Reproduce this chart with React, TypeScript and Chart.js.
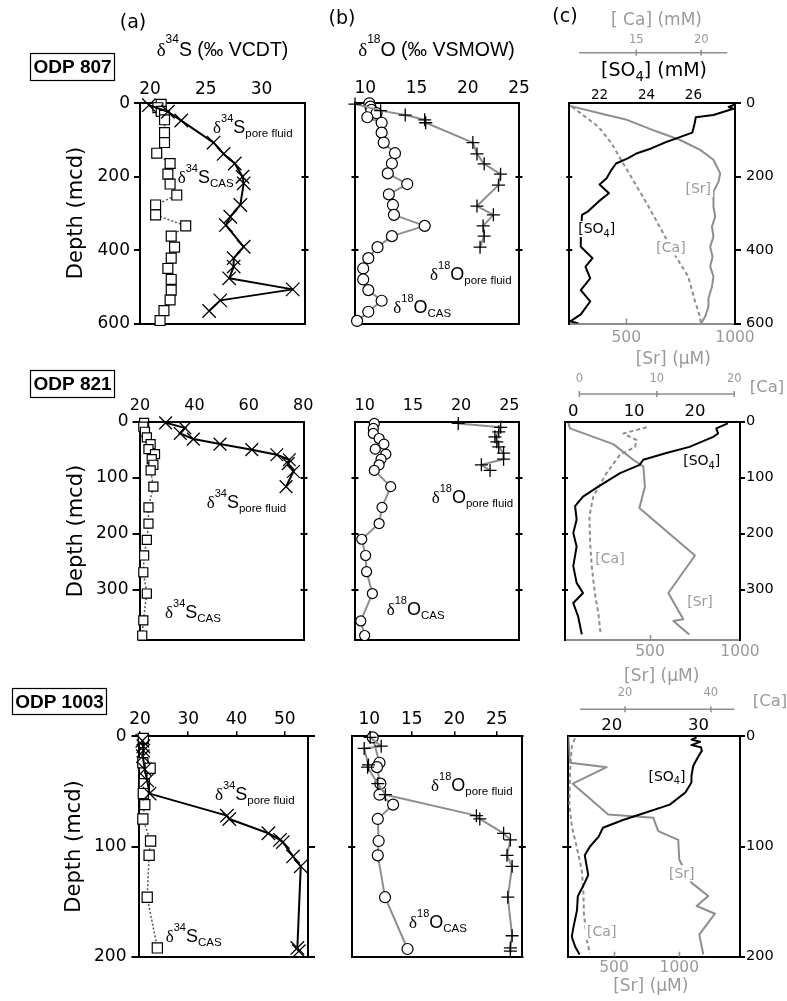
import React, { useEffect, useRef } from 'react';
import { Chart, registerables } from 'chart.js';

Chart.register(...registerables);

type Pt = [number, number]; // [value, depth (mcd)]

// ---------------- ODP 807 ----------------
const s807Pore: Pt[] = [[19.9,5],[21.6,23],[22.8,47],[25.7,107],[26.6,138],[27.6,164],[28.3,200],[28.4,218],[28.1,277],[27.2,309],[26.8,332],[28.4,391],[27.5,422],[27.5,445],[27.1,477],[32.8,507],[26.3,537],[25.3,566]];
const s807Cas: Pt[] = [[21.0,3],[20.7,12],[21.0,22],[21.3,33],[21.3,45],[21.3,80],[21.3,107],[20.6,136],[21.8,164],[21.6,193],[21.8,220],[22.4,250],[20.5,277],[20.5,304],[23.2,334],[21.9,362],[22.2,392],[21.9,422],[21.6,450],[21.9,480],[21.9,509],[21.8,536],[21.25,565],[20.9,592]];
const o807Pore: Pt[] = [[9.0,2],[11.5,20],[13.9,32],[15.8,45],[15.9,53],[20.5,107],[20.9,138],[21.6,165],[23.2,193],[23.0,223],[20.9,280],[22.5,304],[21.5,334],[21.6,362],[21.2,392]];
const o807Cas: Pt[] = [[10.4,0],[10.5,9],[10.6,18],[11.1,27],[10.2,38],[11.6,53],[11.6,80],[11.8,107],[12.9,136],[12.6,164],[12.2,191],[14.1,220],[12.3,248],[12.7,277],[12.8,304],[15.8,334],[12.6,362],[11.2,392],[10.3,422],[9.8,450],[9.8,480],[10.3,509],[11.6,538],[10.3,568],[9.2,593]];
const so4_807: Pt[] = [[27.8,2],[27.5,10],[27.7,15],[26.85,32],[26.1,38],[26.05,55],[25.95,80],[25.3,95],[24.7,109],[24.2,123],[23.6,136],[23.2,150],[22.7,164],[22.5,182],[22.3,204],[22.0,221],[22.4,245],[21.95,268],[21.5,295],[21.25,304],[21.2,368],[21.2,391],[21.7,422],[21.4,445],[21.6,477],[21.2,509],[21.6,540],[21.2,575],[20.75,594],[21.1,600]];
const sr_807: Pt[] = [[241,7],[411,32],[503,45],[641,77],[748,100],[840,127],[901,154],[932,191],[924,214],[901,241],[901,282],[909,309],[894,336],[901,363],[886,391],[897,418],[886,445],[901,472],[894,500],[878,531],[878,554],[863,581],[840,604]];
const ca_807: Pt[] = [[10.05,9],[10.9,32],[12.1,64],[13.1,109],[14.0,164],[14.9,218],[15.8,272],[16.8,336],[17.9,409],[19.0,472],[19.5,536],[19.9,581],[20.0,604]];

// ---------------- ODP 821 ----------------
const s821Pore: Pt[] = [[29.4,2],[36.5,11],[34.8,21],[39.6,31],[49.4,40],[61.1,50],[70.3,59],[74.9,68],[74.5,75],[76.4,89],[73.7,116]];
const s821Cas: Pt[] = [[21.5,2],[21.2,9],[21.8,18],[22.5,28],[23.9,40],[23.1,49],[25.5,58],[24.3,67],[24.9,77],[23.9,87],[24.9,116],[23.1,153],[23.1,182],[22.5,211],[21.5,239],[21.2,269],[22.5,307],[21.2,355],[20.8,382]];
const o821Pore: Pt[] = [[19.7,3],[24.1,10],[23.9,18],[23.5,27],[23.7,36],[23.9,45],[24.4,56],[24.4,67],[22.1,77],[23.0,87]];
const o821Cas: Pt[] = [[11.0,3],[10.9,12],[10.9,21],[11.5,30],[12.0,40],[11.1,49],[12.2,58],[11.7,67],[11.5,77],[11.0,87],[12.7,116],[11.8,153],[11.5,182],[9.7,210],[10.1,239],[10.2,268],[10.8,307],[9.6,356],[10.0,382]];
const so4_821: Pt[] = [[25.4,3],[23.5,12],[23.8,21],[23.0,27],[19.1,45],[15.3,56],[11.5,68],[10.9,77],[7.7,92],[4.1,116],[1.6,134],[0.3,151],[0.55,175],[0,199],[0.55,223],[0,258],[0.55,288],[1.6,306],[0,324],[0.8,348],[1.4,380]];
const sr_821: Pt[] = [[46,2],[56,12],[296,40],[407,68],[463,80],[472,116],[441,154],[750,239],[602,306],[685,353],[630,356],[718,380]];
const ca_821: Pt[] = [[8.7,10],[5.7,21],[7.4,33],[7.2,45],[5.25,59],[3.5,92],[1.8,134],[1.3,169],[1.4,217],[1.6,258],[2.0,306],[2.45,342],[2.75,380]];

// ---------------- ODP 1003 ----------------
const s1003Pore: Pt[] = [[20.5,4],[20.7,9],[20.7,13],[20.6,18],[21.0,30],[21.5,40],[22.0,52],[38.0,72],[38.5,75],[46.6,88],[49.0,94],[49.6,96],[51.7,109],[53.3,118],[52.6,192],[52.9,195]];
const s1003Cas: Pt[] = [[20.7,2],[20.6,24],[22.1,29],[20.9,43],[20.7,52],[21.0,62],[20.6,75],[22.2,95],[21.9,108],[21.5,146],[23.6,192]];
const o1003Pore: Pt[] = [[10.1,1],[11.4,9],[9.4,11],[9.9,26],[9.8,28],[11.0,43],[11.9,53],[22.6,72],[23.0,75],[25.8,88],[26.6,94],[26.2,108],[26.8,118],[26.3,146],[26.8,181],[26.6,192],[26.6,195]];
const o1003Cas: Pt[] = [[10.4,1],[11.2,24],[10.9,28],[11.3,43],[11.2,53],[12.8,62],[11.0,75],[11.1,95],[11.0,108],[11.85,146],[14.5,193]];
const so4_1003: Pt[] = [[29.8,1],[29.2,3],[30.2,5],[29.2,8],[30.3,10],[30.4,13],[29.8,21],[29.4,27],[29.2,36],[29.2,42],[28.5,51],[26.7,62],[23.6,70],[21.3,76],[19.0,83],[18.5,91],[17.5,100],[16.9,108],[17.1,117],[17.3,126],[16.7,136],[16.1,145],[16.0,158],[15.6,173],[15.4,182],[15.8,191],[16.3,198]];
const sr_1003: Pt[] = [[150,0],[163,24],[444,28],[184,43],[456,71],[801,74],[839,86],[992,94],[1000,112],[1095,133],[1222,145],[1133,154],[1273,161],[1153,180],[1184,198]];
const ca_1003: Pt[] = [[8.3,2],[7.6,9],[7.2,30],[7.0,61],[7.6,82],[8.7,100],[9.9,121],[10.3,142],[10.4,160],[11.1,185],[11.8,197]];

// ---------------- tick labels ----------------
const depth807 = [0, 200, 400, 600];
const depth821 = [0, 100, 200, 300];
const depth1003 = [0, 100, 200];
const sTicks807 = [20, 25, 30];
const sTicks821 = [20, 40, 60, 80];
const sTicks1003 = [20, 30, 40, 50];
const oTicks = [10, 15, 20, 25];
const so4Ticks807 = [22, 24, 26];
const so4Ticks821 = [0, 10, 20];
const so4Ticks1003 = [20, 30];
const srTicks = [500, 1000];
const caTicks807 = [15, 20];
const caTicks821 = [0, 10, 20];
const caTicks1003 = [20, 40];

// ---------------- styling ----------------
const W = 787, H = 1001;
const HB = 34; // height of horizontal axis boxes
const VB = 46; // width of vertical axis boxes
const GL = '#8e8e8e';
const GT = '#9a9a9a';
const AXF = '"DejaVu Sans"';
const HVF = '"Liberation Sans"';
const SYF = '"Liberation Serif"';

const toXY = (p: Pt[]) => p.map(([v, d]) => ({ x: v, y: d }));
const fixTicks = (vals: number[]) => (s: any) => { s.ticks = vals.map((value) => ({ value })); };
const fixH = (s: any) => { s.height = HB; };
const fixW = (s: any) => { s.width = VB; };
const num = (v: any) => String(v);

function xAxis(pos: string, min: number, max: number, ticks: number[], o: any = {}) {
  const tl = o.tl || 0;
  return {
    type: 'linear', position: pos, min, max,
    afterBuildTicks: fixTicks(ticks), afterFit: fixH,
    grid: { display: tl > 0, drawOnChartArea: false, drawTicks: tl > 0, tickLength: tl, color: '#000', lineWidth: 1.5 },
    border: { display: true, color: o.border || '#000', width: 2 },
    ticks: { display: o.labels !== false, color: o.color || '#000', font: { family: AXF, size: o.size || 16, lineHeight: 1 }, padding: o.pad ?? 3, autoSkip: false, maxRotation: 0, minRotation: 0, callback: num },
  };
}
function yAxis(pos: string, max: number, ticks: number[], o: any = {}) {
  const tl = o.tl || 0;
  return {
    type: 'linear', position: pos, min: 0, max, reverse: true,
    afterBuildTicks: fixTicks(ticks), afterFit: fixW,
    grid: { display: tl > 0, drawOnChartArea: false, drawTicks: tl > 0, tickLength: tl, color: '#000', lineWidth: 2 },
    border: { display: true, color: '#000', width: 2 },
    ticks: { display: !!o.labels, color: '#000', font: { family: AXF, size: o.size || 16, lineHeight: 1 }, padding: o.pad ?? 3, autoSkip: false, callback: num },
  };
}
function baseOptions(box: number[]) {
  const [l, t, r, b] = box;
  return {
    responsive: false, animation: false, devicePixelRatio: 1, events: [],
    layout: { padding: { left: l - VB, top: t - HB, right: W - r - VB, bottom: H - b - HB } },
    plugins: { legend: { display: false }, tooltip: { enabled: false }, title: { display: false } },
  };
}
function markerSet(pts: Pt[], xID: string, o: any) {
  return {
    data: toXY(pts), xAxisID: xID, yAxisID: 'y',
    borderColor: o.line, borderWidth: o.lw, borderDash: o.dash || [], borderJoinStyle: 'round',
    pointStyle: o.style, pointRadius: o.r, pointBackgroundColor: o.fill, pointBorderColor: '#000', pointBorderWidth: o.mkw || 1.2,
    fill: false, tension: 0, clip: false,
  };
}
function lineSet(pts: Pt[], xID: string, color: string, lw: number, dash: number[] = []) {
  return { data: toXY(pts), xAxisID: xID, yAxisID: 'y', borderColor: color, borderWidth: lw, borderDash: dash, borderJoinStyle: 'round', pointRadius: 0, fill: false, tension: 0 };
}
const overlay = (fn: (c: any, ctx: CanvasRenderingContext2D) => void) => ({
  id: 'overlay',
  afterDatasetsDraw(chart: any) { const ctx = chart.ctx; ctx.save(); fn(chart, ctx); ctx.restore(); },
});

type Run = { t: string; size: number; font?: string; dy?: number; weight?: string };
function drawRuns(ctx: CanvasRenderingContext2D, runs: Run[], x: number, y: number, align: 'left' | 'center', color: string, bg = false) {
  ctx.textBaseline = 'alphabetic';
  ctx.textAlign = 'left';
  const fonts = runs.map((r) => `${r.weight || 'normal'} ${r.size}px ${r.font || HVF}`);
  let total = 0;
  const ws = runs.map((r, i) => { ctx.font = fonts[i]; const w = ctx.measureText(r.t).width; total += w; return w; });
  let cx = align === 'center' ? x - total / 2 : x;
  if (bg) {
    const m = Math.max(...runs.map((r) => r.size));
    ctx.fillStyle = '#fff';
    ctx.fillRect(cx - 2, y - m * 0.88, total + 4, m * 1.15);
  }
  runs.forEach((r, i) => { ctx.font = fonts[i]; ctx.fillStyle = color; ctx.fillText(r.t, cx, y + (r.dy || 0)); cx += ws[i]; });
}
function text(ctx: CanvasRenderingContext2D, s: string, x: number, y: number, size: number, color: string, font = AXF, weight = 'normal', align: CanvasTextAlign = 'center') {
  ctx.font = `${weight} ${size}px ${font}`;
  ctx.fillStyle = color;
  ctx.textAlign = align;
  ctx.textBaseline = 'middle';
  ctx.fillText(s, x, y);
}
function sideTicks(chart: any, ctx: CanvasRenderingContext2D, side: 'left' | 'right', vals: number[], inn: number, out: number) {
  const ca = chart.chartArea, ys = chart.scales.y;
  const x = side === 'left' ? ca.left : ca.right;
  const dir = side === 'left' ? 1 : -1;
  ctx.strokeStyle = '#000';
  ctx.lineWidth = 2;
  ctx.beginPath();
  vals.forEach((v) => { const y = Math.round(ys.getPixelForValue(v)); ctx.moveTo(x - dir * out, y); ctx.lineTo(x + dir * inn, y); });
  ctx.stroke();
}
const isoRuns = (el: string, mass: string, sub: string): Run[] => [
  { t: 'δ', size: 17, font: SYF },
  { t: mass, size: 11, dy: -11 },
  { t: el, size: 18 },
  { t: sub, size: 11.5, dy: 3.5 },
];
const so4Runs = (size: number): Run[] => [
  { t: '[SO', size, font: AXF },
  { t: '4', size: size * 0.7, font: AXF, dy: size * 0.25 },
  { t: ']', size, font: AXF },
];
function siteBox(ctx: CanvasRenderingContext2D, label: string, b: number[]) {
  ctx.fillStyle = '#fff';
  ctx.fillRect(b[0], b[1], b[2] - b[0], b[3] - b[1]);
  ctx.strokeStyle = '#000';
  ctx.lineWidth = 1.2;
  ctx.strokeRect(b[0] + 0.5, b[1] + 0.5, b[2] - b[0] - 1, b[3] - b[1] - 1);
  text(ctx, label, (b[0] + b[2]) / 2, (b[1] + b[3]) / 2 + 1, 19, '#000', HVF, 'bold');
}
function depthTitle(ctx: CanvasRenderingContext2D, x: number, y: number) {
  ctx.save();
  ctx.translate(x, y);
  ctx.rotate(-Math.PI / 2);
  text(ctx, 'Depth (mcd)', 0, 0, 21, '#000');
  ctx.restore();
}

// ---------------- panel (a): δ34S ----------------
function makeA(s: any) {
  const inner = s.yTicks.filter((v: number) => v > 0 && v < s.yMax);
  return {
    type: 'line',
    data: { datasets: [
      markerSet(s.pore, 'x', { line: '#000', lw: 2, style: 'crossRot', r: s.crossR, fill: 'rgba(0,0,0,0)', mkw: 1.3 }),
      markerSet(s.cas, 'x', { line: '#555', lw: 1.5, dash: [2, 2], style: 'rect', r: s.rectR, fill: '#fff', mkw: 1.2 }),
    ] },
    options: {
      ...baseOptions(s.box),
      scales: {
        x: xAxis('top', s.xMin, s.xMax, s.xTicks, { size: s.xSize, pad: s.xPad, tl: s.xTl }),
        x2: xAxis('bottom', s.xMin, s.xMax, [], { labels: false }),
        y: yAxis('left', s.yMax, s.yTicks, { labels: true, size: s.ySize, tl: s.yTl, pad: s.yPad }),
        y2: yAxis('right', s.yMax, s.yTicks, { labels: false, tl: s.rightOut ? 7 : 0 }),
      },
    },
    plugins: [overlay((chart, ctx) => {
      if (!s.rightOut) sideTicks(chart, ctx, 'right', inner, 3.5, 3.5);
      drawRuns(ctx, isoRuns('S', '34', 'pore fluid'), s.poreAt[0], s.poreAt[1], 'left', '#000');
      drawRuns(ctx, isoRuns('S', '34', 'CAS'), s.casAt[0], s.casAt[1], 'left', '#000');
      siteBox(ctx, s.site, s.siteBox);
      depthTitle(ctx, s.depthAt[0], s.depthAt[1]);
      if (s.header) {
        text(ctx, '(a)', 133, 23.5, 19, '#000');
        drawRuns(ctx, [{ t: 'δ', size: 19, font: SYF }, { t: '34', size: 12, dy: -13 }, { t: 'S (‰ VCDT)', size: 19.5 }], 222.5, 56, 'center', '#000');
      }
    })],
  };
}

// ---------------- panel (b): δ18O ----------------
function makeB(s: any) {
  const inner = s.yTicks.filter((v: number) => v > 0 && v < s.yMax);
  return {
    type: 'line',
    data: { datasets: [
      markerSet(s.pore, 'x', { line: GL, lw: 2, style: 'cross', r: s.plusR, fill: 'rgba(0,0,0,0)', mkw: 1.3 }),
      markerSet(s.cas, 'x', { line: GL, lw: 2, style: 'circle', r: s.circR, fill: '#fff', mkw: 1.2 }),
    ] },
    options: {
      ...baseOptions(s.box),
      scales: {
        x: xAxis('top', s.xMin, s.xMax, oTicks, { size: s.xSize, pad: s.xPad, tl: s.xTl }),
        x2: xAxis('bottom', s.xMin, s.xMax, [], { labels: false }),
        y: yAxis('left', s.yMax, s.yTicks, { labels: false }),
        y2: yAxis('right', s.yMax, s.yTicks, { labels: false }),
      },
    },
    plugins: [overlay((chart, ctx) => {
      sideTicks(chart, ctx, 'left', inner, 3.5, 3.5);
      sideTicks(chart, ctx, 'right', inner, 3.5, 3.5);
      drawRuns(ctx, isoRuns('O', '18', 'pore fluid'), s.poreAt[0], s.poreAt[1], 'left', '#000');
      drawRuns(ctx, isoRuns('O', '18', 'CAS'), s.casAt[0], s.casAt[1], 'left', '#000');
      if (s.header) {
        text(ctx, '(b)', 342, 19.5, 19, '#000');
        drawRuns(ctx, [{ t: 'δ', size: 19, font: SYF }, { t: '18', size: 12, dy: -13 }, { t: 'O (‰ VSMOW)', size: 19.5 }], 436.5, 55.5, 'center', '#000');
      }
    })],
  };
}

// ---------------- panel (c): concentrations ----------------
function makeC(s: any) {
  const inner = s.yTicks.filter((v: number) => v > 0 && v < s.yMax);
  return {
    type: 'line',
    data: { datasets: [
      lineSet(s.so4, 'xso4', '#000', 2),
      lineSet(s.sr, 'xsr', GL, 2),
      lineSet(s.ca, 'xca', GL, 2, [4, 3]),
    ] },
    options: {
      ...baseOptions(s.box),
      scales: {
        xso4: xAxis('top', s.so4Min, s.so4Max, s.so4Ticks, { size: s.so4Size, pad: s.so4Pad }),
        xsr: xAxis('bottom', s.srMin, s.srMax, srTicks, { size: 15.5, pad: s.srPad, color: GT, border: s.srBorder }),
        xca: { type: 'linear', position: 'top', display: false, min: s.caMin, max: s.caMax },
        y: yAxis('left', s.yMax, s.yTicks, { labels: false }),
        y2: yAxis('right', s.yMax, s.yTicks, { labels: true, size: 14.5, tl: s.rTl, pad: s.rPad }),
      },
    },
    plugins: [overlay((chart, ctx) => {
      const ca = chart.chartArea;
      sideTicks(chart, ctx, 'left', inner, 3, s.leftOut);
      const xs = chart.scales.xsr;
      ctx.strokeStyle = GL; ctx.lineWidth = 1.5; ctx.beginPath();
      s.srInner.forEach((v: number) => { const x = Math.round(xs.getPixelForValue(v)) + 0.5; ctx.moveTo(x, ca.bottom); ctx.lineTo(x, ca.bottom - 5); });
      ctx.stroke();
      const xc = chart.scales.xca;
      ctx.strokeStyle = GL; ctx.lineWidth = 1.5; ctx.beginPath();
      ctx.moveTo(xc.getPixelForValue(s.caFrom), s.caY); ctx.lineTo(xc.getPixelForValue(s.caTo), s.caY);
      s.caTicks.forEach((v: number) => { const x = xc.getPixelForValue(v); ctx.moveTo(x, s.caY - 3); ctx.lineTo(x, s.caY + 3); });
      ctx.stroke();
      s.caTicks.forEach((v: number) => text(ctx, String(v), xc.getPixelForValue(v), s.caLabY, 11.5, GT));
      drawRuns(ctx, so4Runs(14), s.so4At[0], s.so4At[1] + 5, 'center', '#000', true);
      drawRuns(ctx, [{ t: '[Sr]', size: 14, font: AXF }], s.srAt[0], s.srAt[1] + 5, 'center', GT, true);
      drawRuns(ctx, [{ t: '[Ca]', size: 14, font: AXF }], s.caAt[0], s.caAt[1] + 5, 'center', GT, true);
      text(ctx, '[Sr] (μM)', s.srTitle[0], s.srTitle[1], 17, GT);
      if (s.caSide) text(ctx, '[Ca]', s.caSide[0], s.caSide[1], 16.5, GT);
      if (s.header) {
        text(ctx, '(c)', 565, 17.5, 19, '#000');
        text(ctx, '[ Ca] (mM)', 656.5, 20.5, 17, GT);
        drawRuns(ctx, [...so4Runs(19), { t: ' (mM)', size: 19, font: AXF }], 654, 76, 'center', '#000');
      }
    })],
  };
}

const FACTORIES: (() => any)[] = [
  // ODP 807
  () => makeA({ box: [140, 103.3, 305, 323.5], xMin: 19.1, xMax: 33.9, xTicks: sTicks807, xSize: 17, xPad: 4.8, xTl: 0,
    yMax: 600, yTicks: depth807, ySize: 17, yTl: 6, yPad: 4, pore: s807Pore, cas: s807Cas, crossR: 9.5, rectR: 7,
    poreAt: [213, 133], casAt: [177.7, 183], site: 'ODP 807', siteBox: [30, 53, 115, 81], depthAt: [77, 213], header: true }),
  () => makeB({ box: [355, 103.3, 519, 323.5], xMin: 9, xMax: 25, xSize: 17, xPad: 6.5, xTl: 0,
    yMax: 600, yTicks: depth807, pore: o807Pore, cas: o807Cas, plusR: 6.5, circR: 5.5,
    poreAt: [430, 280], casAt: [393.3, 313], header: true }),
  () => makeC({ box: [569.3, 103.3, 735, 323.5], yMax: 600, yTicks: depth807, so4: so4_807, sr: sr_807, ca: ca_807,
    so4Min: 20.71, so4Max: 27.77, so4Ticks: so4Ticks807, so4Size: 13.5, so4Pad: 1.5,
    srMin: 238.5, srMax: 1000, srPad: 6.75, srBorder: GL, srInner: [500],
    caMin: 9.85, caMax: 22.6, caFrom: 10.6, caTo: 22, caTicks: caTicks807, caY: 52.7, caLabY: 40,
    rTl: 6, rPad: 5, leftOut: 3,
    so4At: [596.7, 228.3], srAt: [698.3, 188.3], caAt: [671, 246.7], srTitle: [673.3, 359.3], header: true }),
  // ODP 821
  () => makeA({ box: [139.5, 421.7, 304, 640], xMin: 19.8, xMax: 80.3, xTicks: sTicks821, xSize: 16, xPad: 7.7, xTl: 0,
    yMax: 390, yTicks: depth821, ySize: 17, yTl: 7, yPad: 4, pore: s821Pore, cas: s821Cas, crossR: 9, rectR: 6.4,
    poreAt: [206.7, 508], casAt: [165, 618], site: 'ODP 821', siteBox: [30, 370, 115, 398], depthAt: [77, 531] }),
  () => makeB({ box: [355, 421.7, 519, 640], xMin: 9, xMax: 26, xSize: 16, xPad: 7.7, xTl: 0,
    yMax: 390, yTicks: depth821, pore: o821Pore, cas: o821Cas, plusR: 6.5, circR: 5,
    poreAt: [431.7, 503], casAt: [386.7, 615] }),
  () => makeC({ box: [565, 421.7, 740, 640], yMax: 390, yTicks: depth821, so4: so4_821, sr: sr_821, ca: ca_821,
    so4Min: -1.36, so4Max: 27.4, so4Ticks: so4Ticks821, so4Size: 16.5, so4Pad: 1.75,
    srMin: 28, srMax: 1000, srPad: 4, srBorder: GL, srInner: [500],
    caMin: -1.85, caMax: 20.74, caFrom: 0, caTo: 20, caTicks: caTicks821, caY: 394, caLabY: 379,
    rTl: 5, rPad: 1, leftOut: 3,
    so4At: [701.7, 460], srAt: [700, 600.5], caAt: [610, 558], srTitle: [661.7, 676.7], caSide: [767, 388] }),
  // ODP 1003
  () => makeA({ box: [138.5, 736.3, 308, 956.7], xMin: 19.7, xMax: 54.8, xTicks: sTicks1003, xSize: 17, xPad: 2.8, xTl: 5,
    yMax: 200, yTicks: depth1003, ySize: 17, yTl: 7, yPad: 5, rightOut: true, pore: s1003Pore, cas: s1003Cas, crossR: 9.5, rectR: 7.2,
    poreAt: [215, 800], casAt: [165.7, 942], site: 'ODP 1003', siteBox: [12, 688, 107, 715], depthAt: [75, 846.5] }),
  () => makeB({ box: [351.7, 736.3, 522.3, 956.7], xMin: 7.93, xMax: 28, xSize: 17, xPad: 2.8, xTl: 5,
    yMax: 200, yTicks: depth1003, pore: o1003Pore, cas: o1003Cas, plusR: 6.5, circR: 5.5,
    poreAt: [431, 791], casAt: [409, 928] }),
  () => makeC({ box: [568.3, 736.3, 740, 956.7], yMax: 200, yTicks: depth1003, so4: so4_1003, sr: sr_1003, ca: ca_1003,
    so4Min: 15, so4Max: 34.8, so4Ticks: so4Ticks1003, so4Size: 16.5, so4Pad: 2,
    srMin: 150, srMax: 1465, srPad: 4, srBorder: '#000', srInner: [500, 1000],
    caMin: 6.77, caMax: 46.8, caFrom: 9.5, caTo: 45.5, caTicks: caTicks1003, caY: 709.3, caLabY: 693.3,
    rTl: 5, rPad: 1, leftOut: 6,
    so4At: [667, 775.7], srAt: [681.7, 872.5], caAt: [601.7, 930.8], srTitle: [650.8, 986.7], caSide: [770, 702] }),
];

function Panel({ make }: { make: () => any }) {
  const ref = useRef<HTMLCanvasElement>(null);
  useEffect(() => {
    if (!ref.current) return;
    const chart = new Chart(ref.current, make());
    return () => chart.destroy();
  }, [make]);
  return <canvas ref={ref} width={W} height={H} style={{ position: 'absolute', left: 0, top: 0, width: W, height: H }} />;
}

export default function App() {
  return (
    <div style={{ position: 'absolute', left: 0, top: 0, width: W, height: H, background: '#fff', overflow: 'hidden' }}>
      {FACTORIES.map((f, i) => <Panel key={i} make={f} />)}
    </div>
  );
}
